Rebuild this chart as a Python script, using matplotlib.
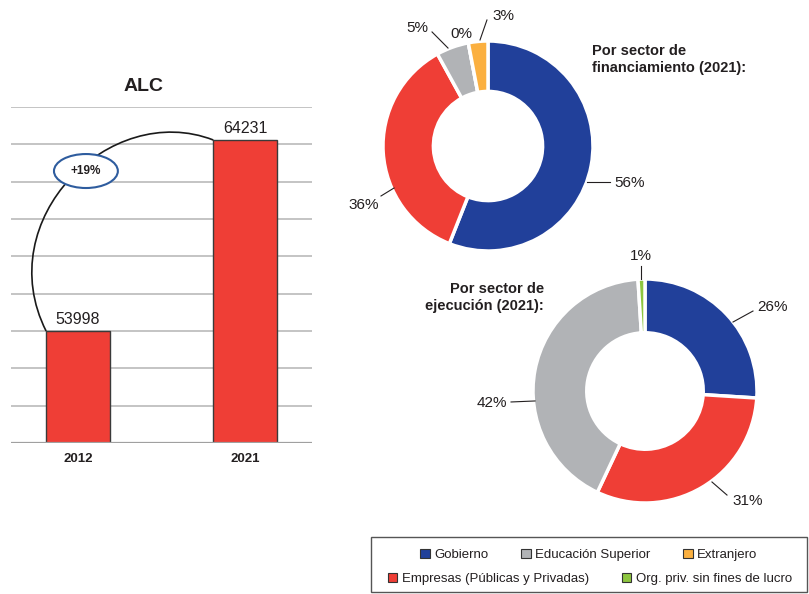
import matplotlib
matplotlib.use('Agg')
import matplotlib.pyplot as plt
from matplotlib.patches import Ellipse, Rectangle, Patch, PathPatch
from matplotlib.path import Path

plt.rcParams['font.family'] = ['Liberation Sans', 'DejaVu Sans']

# datos
years = ['2012', '2021']
alc_values = [53998, 64231]

sectors = ['Gobierno', 'Empresas (Públicas y Privadas)', 'Educación Superior',
           'Org. priv. sin fines de lucro', 'Extranjero']
colors = ['#21409a', '#ef3e36', '#b1b3b6', '#8dc63f', '#fbb040']

financ_values = [56, 36, 5, 0, 3]       # Gob, Empresas, Educ, Org, Extranjero
ejec_values = [26, 31, 42, 1]           # Gob, Empresas, Educ, Org

TXT = '#231f20'
W, H = 809, 594

fig = plt.figure(figsize=(W / 100, H / 100), dpi=100)


def fig_box(x0, y0, x1, y1):
    # pixeles (desde arriba) -> coordenadas de figura
    return [x0 / W, 1 - y1 / H, (x1 - x0) / W, (y1 - y0) / H]


# ---- barras ----
ax = fig.add_axes(fig_box(11, 107, 312, 443))
xpos = list(range(len(years)))
bw = 0.38
ax.bar(xpos, alc_values, width=bw, color='#ef3e36', edgecolor='#3a3a3a',
       linewidth=1, zorder=3)
ax.set_xlim(-0.4, 1.4)
ax.set_ylim(48000, 66000)
ax.set_yticks(range(48000, 66001, 2000))
ax.set_yticklabels([])
ax.grid(axis='y', color='#c4c4c4', linewidth=1.4, zorder=0)
ax.axhline(48000, color='#a0a0a0', linewidth=1.6, zorder=4)
for s in ax.spines.values():
    s.set_visible(False)
ax.set_xticks(xpos)
ax.set_xticklabels(years, fontsize=9.5, fontweight='bold', color=TXT)
ax.tick_params(length=0, pad=7)
for x, v in zip(xpos, alc_values):
    ax.annotate(str(v), (x, v), xytext=(0, 3), textcoords='offset points',
                ha='center', va='bottom', fontsize=11.5, color=TXT)

fig.text(144 / W, 1 - 91 / H, 'ALC', fontsize=14, fontweight='bold',
         ha='center', va='baseline', color=TXT)

# arco de crecimiento
p0 = (xpos[0] - bw / 2, alc_values[0])
p3 = (xpos[1] - bw / 2, alc_values[1])
arc = Path([p0, (-0.525, 59950), (0.19, 66380), p3],
           [Path.MOVETO, Path.CURVE4, Path.CURVE4, Path.CURVE4])
ax.add_patch(PathPatch(arc, fill=False, edgecolor='#1a1a1a', linewidth=1.2,
                       zorder=4, clip_on=False))
ax.add_patch(Ellipse((0.048, 62570), 0.382, 1820, facecolor='white',
                     edgecolor='#2e5c9e', linewidth=1.5, zorder=5, clip_on=False))
growth = round((alc_values[1] / alc_values[0] - 1) * 100)
ax.text(0.048, 62570, f'+{growth}%', fontsize=8.5, fontweight='bold',
        ha='center', va='center', color=TXT, zorder=6)


# ---- donas ----
def donut(cx, cy, R, values, cols, labels):
    half = 140
    a = fig.add_axes(fig_box(cx - half, cy - half, cx + half, cy + half))
    a.pie(values, colors=cols, startangle=90, counterclock=False,
          wedgeprops=dict(width=0.48, edgecolor='white', linewidth=2.5))
    lim = half / R
    a.set_xlim(-lim, lim)
    a.set_ylim(-lim, lim)
    a.set_axis_off()
    for v, (txy, ha, line) in zip(values, labels):
        a.text(txy[0], txy[1], f'{v}%', fontsize=11, ha=ha, va='center',
               color=TXT)
        if line:
            a.plot([line[0][0], line[1][0]], [line[0][1], line[1][1]],
                   color='#231f20', linewidth=0.8)
    return a


financ_labels = [
    ((1.20, -0.352), 'left', ((0.943, -0.343), (1.162, -0.343))),
    ((-1.038, -0.562), 'right', ((-0.895, -0.40), (-1.019, -0.476))),
    ((-0.676, 1.12), 'center', ((-0.381, 0.933), (-0.533, 1.086))),
    ((-0.252, 1.07), 'center', None),
    ((0.143, 1.24), 'center', ((-0.076, 1.01), (-0.01, 1.20))),
]
donut(488, 146, 105, financ_values, colors, financ_labels)

ejec_labels = [
    ((1.0, 0.75), 'left', ((0.786, 0.616), (0.964, 0.714))),
    ((0.777, -0.982), 'left', ((0.598, -0.8125), (0.732, -0.929))),
    ((-1.232, -0.107), 'right', ((-0.982, -0.089), (-1.196, -0.098))),
    ((-0.036, 1.205), 'center', ((-0.036, 1.0), (-0.036, 1.116))),
]
donut(645, 391, 112, ejec_values, colors[:4], ejec_labels)

fig.text(592 / W, 1 - 44 / H, 'Por sector de\nfinanciamiento (2021):',
         fontsize=10.5, fontweight='bold', ha='left', va='top', color=TXT,
         linespacing=1.25)
fig.text(544 / W, 1 - 282 / H, 'Por sector de\nejecución (2021):',
         fontsize=10.5, fontweight='bold', ha='right', va='top', color=TXT,
         multialignment='right', linespacing=1.25)

# ---- leyenda ----
col = dict(zip(sectors, colors))


def handle(name):
    return Patch(facecolor=col[name], edgecolor='#333333', linewidth=0.8,
                 label=name)


row1 = [handle('Gobierno'), handle('Educación Superior'), handle('Extranjero')]
row2 = [handle('Empresas (Públicas y Privadas)'),
        handle('Org. priv. sin fines de lucro')]
leg_kw = dict(loc='center', frameon=False, fontsize=9.5, handlelength=0.7,
              handleheight=0.7, handletextpad=0.35, borderpad=0,
              borderaxespad=0, labelcolor=TXT)
fig.legend(handles=row1, ncol=3, columnspacing=2.5,
           bbox_to_anchor=(589 / W, 1 - 555 / H), **leg_kw)
fig.legend(handles=row2, ncol=2, columnspacing=2.5,
           bbox_to_anchor=(590 / W, 1 - 579 / H), **leg_kw)
fig.add_artist(Rectangle((371 / W, 1 - 592 / H), 436 / W, 55 / H,
                         transform=fig.transFigure, fill=False,
                         edgecolor='#555555', linewidth=1))

fig.savefig('out.png', dpi=100)
